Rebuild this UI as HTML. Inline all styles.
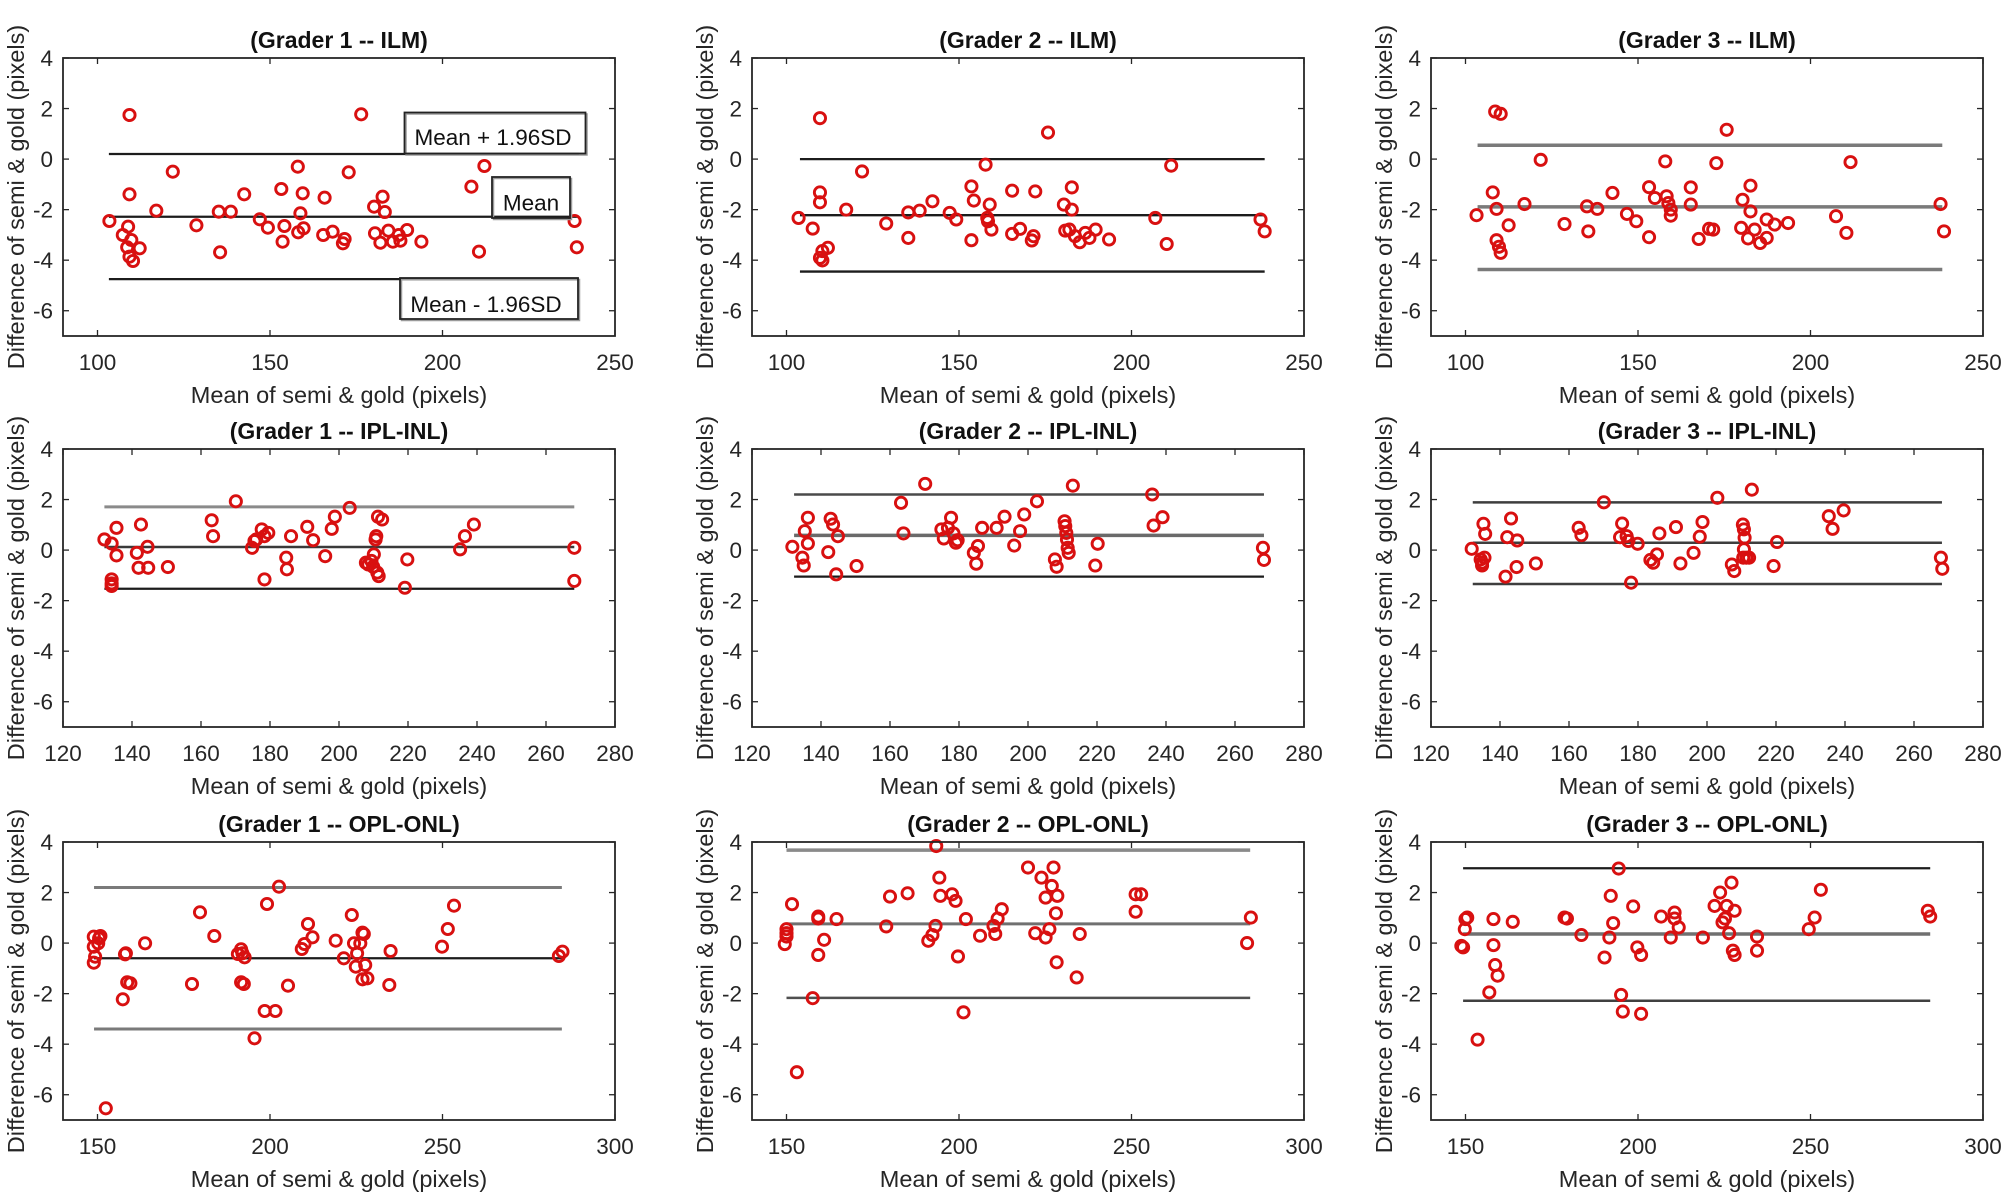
<!DOCTYPE html>
<html><head><meta charset="utf-8"><style>
html,body{margin:0;padding:0;background:#fff;}
svg{display:block;}
text{font-family:"Liberation Sans",Arial,sans-serif;fill:#262626;}
.yt{font-size:22.5px;text-anchor:end;}
.xt{font-size:22.5px;text-anchor:middle;}
.lb{font-size:23.5px;text-anchor:middle;}
.ti{font-size:23px;font-weight:bold;text-anchor:middle;fill:#111;}
.an{font-size:22.5px;text-anchor:middle;fill:#111;}
</style></head><body>
<svg id="c" xmlns="http://www.w3.org/2000/svg" width="2007" height="1201" viewBox="0 0 2007 1201">
<rect x="0" y="0" width="2007" height="1201" fill="#fff"/>
<g id="plots"></g>
<!-- Titles -->
<text class="ti" x="339" y="48">(Grader 1 -- ILM)</text>
<text class="ti" x="1028" y="48">(Grader 2 -- ILM)</text>
<text class="ti" x="1707" y="48">(Grader 3 -- ILM)</text>
<text class="ti" x="339" y="439">(Grader 1 -- IPL-INL)</text>
<text class="ti" x="1028" y="439">(Grader 2 -- IPL-INL)</text>
<text class="ti" x="1707" y="439">(Grader 3 -- IPL-INL)</text>
<text class="ti" x="339" y="832">(Grader 1 -- OPL-ONL)</text>
<text class="ti" x="1028" y="832">(Grader 2 -- OPL-ONL)</text>
<text class="ti" x="1707" y="832">(Grader 3 -- OPL-ONL)</text>
<!-- X labels -->
<text class="lb" x="339" y="403">Mean of semi &amp; gold (pixels)</text>
<text class="lb" x="1028" y="403">Mean of semi &amp; gold (pixels)</text>
<text class="lb" x="1707" y="403">Mean of semi &amp; gold (pixels)</text>
<text class="lb" x="339" y="794">Mean of semi &amp; gold (pixels)</text>
<text class="lb" x="1028" y="794">Mean of semi &amp; gold (pixels)</text>
<text class="lb" x="1707" y="794">Mean of semi &amp; gold (pixels)</text>
<text class="lb" x="339" y="1187">Mean of semi &amp; gold (pixels)</text>
<text class="lb" x="1028" y="1187">Mean of semi &amp; gold (pixels)</text>
<text class="lb" x="1707" y="1187">Mean of semi &amp; gold (pixels)</text>
<!-- Y labels -->
<text class="lb" transform="translate(24,197) rotate(-90)">Difference of semi &amp; gold (pixels)</text>
<text class="lb" transform="translate(713,197) rotate(-90)">Difference of semi &amp; gold (pixels)</text>
<text class="lb" transform="translate(1392,197) rotate(-90)">Difference of semi &amp; gold (pixels)</text>
<text class="lb" transform="translate(24,588) rotate(-90)">Difference of semi &amp; gold (pixels)</text>
<text class="lb" transform="translate(713,588) rotate(-90)">Difference of semi &amp; gold (pixels)</text>
<text class="lb" transform="translate(1392,588) rotate(-90)">Difference of semi &amp; gold (pixels)</text>
<text class="lb" transform="translate(24,981) rotate(-90)">Difference of semi &amp; gold (pixels)</text>
<text class="lb" transform="translate(713,981) rotate(-90)">Difference of semi &amp; gold (pixels)</text>
<text class="lb" transform="translate(1392,981) rotate(-90)">Difference of semi &amp; gold (pixels)</text>
<!-- Y tick labels -->
<g class="yt">
<text x="53" y="66">4</text><text x="53" y="116.5">2</text><text x="53" y="167">0</text><text x="53" y="217.5">-2</text><text x="53" y="268">-4</text><text x="53" y="318.5">-6</text>
<text x="742" y="66">4</text><text x="742" y="116.5">2</text><text x="742" y="167">0</text><text x="742" y="217.5">-2</text><text x="742" y="268">-4</text><text x="742" y="318.5">-6</text>
<text x="1421" y="66">4</text><text x="1421" y="116.5">2</text><text x="1421" y="167">0</text><text x="1421" y="217.5">-2</text><text x="1421" y="268">-4</text><text x="1421" y="318.5">-6</text>
<text x="53" y="457">4</text><text x="53" y="507.5">2</text><text x="53" y="558">0</text><text x="53" y="608.5">-2</text><text x="53" y="659">-4</text><text x="53" y="709.5">-6</text>
<text x="742" y="457">4</text><text x="742" y="507.5">2</text><text x="742" y="558">0</text><text x="742" y="608.5">-2</text><text x="742" y="659">-4</text><text x="742" y="709.5">-6</text>
<text x="1421" y="457">4</text><text x="1421" y="507.5">2</text><text x="1421" y="558">0</text><text x="1421" y="608.5">-2</text><text x="1421" y="659">-4</text><text x="1421" y="709.5">-6</text>
<text x="53" y="850">4</text><text x="53" y="900.5">2</text><text x="53" y="951">0</text><text x="53" y="1001.5">-2</text><text x="53" y="1052">-4</text><text x="53" y="1102.5">-6</text>
<text x="742" y="850">4</text><text x="742" y="900.5">2</text><text x="742" y="951">0</text><text x="742" y="1001.5">-2</text><text x="742" y="1052">-4</text><text x="742" y="1102.5">-6</text>
<text x="1421" y="850">4</text><text x="1421" y="900.5">2</text><text x="1421" y="951">0</text><text x="1421" y="1001.5">-2</text><text x="1421" y="1052">-4</text><text x="1421" y="1102.5">-6</text>
</g>
<!-- X tick labels -->
<g class="xt">
<text x="97.5" y="370">100</text><text x="270" y="370">150</text><text x="442.5" y="370">200</text><text x="615" y="370">250</text>
<text x="786.5" y="370">100</text><text x="959" y="370">150</text><text x="1131.5" y="370">200</text><text x="1304" y="370">250</text>
<text x="1465.5" y="370">100</text><text x="1638" y="370">150</text><text x="1810.5" y="370">200</text><text x="1983" y="370">250</text>

<text x="63" y="761">120</text><text x="132" y="761">140</text><text x="201" y="761">160</text><text x="270" y="761">180</text><text x="339" y="761">200</text><text x="408" y="761">220</text><text x="477" y="761">240</text><text x="546" y="761">260</text><text x="615" y="761">280</text>
<text x="752" y="761">120</text><text x="821" y="761">140</text><text x="890" y="761">160</text><text x="959" y="761">180</text><text x="1028" y="761">200</text><text x="1097" y="761">220</text><text x="1166" y="761">240</text><text x="1235" y="761">260</text><text x="1304" y="761">280</text>
<text x="1431" y="761">120</text><text x="1500" y="761">140</text><text x="1569" y="761">160</text><text x="1638" y="761">180</text><text x="1707" y="761">200</text><text x="1776" y="761">220</text><text x="1845" y="761">240</text><text x="1914" y="761">260</text><text x="1983" y="761">280</text>

<text x="97.5" y="1154">150</text><text x="270" y="1154">200</text><text x="442.5" y="1154">250</text><text x="615" y="1154">300</text>
<text x="786.5" y="1154">150</text><text x="959" y="1154">200</text><text x="1131.5" y="1154">250</text><text x="1304" y="1154">300</text>
<text x="1465.5" y="1154">150</text><text x="1638" y="1154">200</text><text x="1810.5" y="1154">250</text><text x="1983" y="1154">300</text>
</g>
<!-- Annotation boxes (plot 1) -->
<rect x="406" y="114" width="181" height="41" fill="none" stroke="#9a9a9a" stroke-width="1.5"/>
<rect x="404.5" y="112.5" width="181" height="41" fill="none" stroke="#222" stroke-width="1.8"/>
<text class="an" x="493" y="145">Mean + 1.96SD</text>
<rect x="493.5" y="178.5" width="78" height="41" fill="none" stroke="#9a9a9a" stroke-width="1.5"/>
<rect x="492" y="177" width="78" height="41" fill="none" stroke="#222" stroke-width="1.8"/>
<text class="an" x="531" y="210.5">Mean</text>
<rect x="401.5" y="279.5" width="178" height="41" fill="none" stroke="#9a9a9a" stroke-width="1.5"/>
<rect x="400" y="278" width="178" height="41" fill="none" stroke="#222" stroke-width="1.8"/>
<text class="an" x="486" y="312">Mean - 1.96SD</text>
</svg>
<script>
(function(){
var NS='http://www.w3.org/2000/svg';
var G=document.getElementById('plots');
function el(n,a){var e=document.createElementNS(NS,n);for(var k in a)e.setAttribute(k,a[k]);G.appendChild(e);return e;}
var W=552,H=278,K=H/11,SX=W/160;
var ILM=[100,150,200,250],IPL=[120,140,160,180,200,220,240,260,280],OPL=[150,200,250,300];
var plots=[
{L:63,T:58,x0:90,ticks:ILM,px:true,lx:[103.3,239.5],
 lines:[[0.20,'#1c1c1c',2.3],[-2.28,'#1c1c1c',2.3],[-4.75,'#1c1c1c',2.3]],
 pts:"109.4,221 129.5,115 129.5,194.3 122.8,235 128.1,226.7 127.2,247.3 129.5,256.7 133,261 131.3,240 139.7,248.3 156.3,210.7 172.8,171.7 196.4,225.3 218.8,211.7 220.1,252.3 230.8,211.7 244.2,194.3 259.8,219.3 267.9,227.7 281.3,189 282.6,241.7 284.4,226 297.8,166.7 300.4,213.3 302.7,193.3 303.6,228.3 298.2,232.3 323.2,235 324.6,197.7 332.6,231.7 342.9,243.3 344.6,239 348.7,172.3 361.2,114.3 374.1,206.7 375,233.3 380.4,242.7 382.6,196.7 384.8,212 388.4,230.7 392.9,241.7 398.7,235 400.4,240.7 407.1,230 421.4,241.7 471.4,186.7 479,251.7 484.4,166 574.6,221 576.8,247.3"},
{L:752,T:58,x0:90,ticks:ILM,lx:[103.9,238.6],
 lines:[[0.0,'#1c1c1c',2.3],[-2.22,'#1c1c1c',2.3],[-4.45,'#1c1c1c',2.3]],
 pts:"109.7,1.62 109.7,-1.32 109.7,-1.71 103.5,-2.33 107.6,-2.75 117.3,-2.0 121.9,-0.49 112,-3.51 110.4,-3.64 109.7,-3.91 110.4,-4.01 128.9,-2.55 135.3,-3.12 135.3,-2.11 138.6,-2.04 142.3,-1.67 147.3,-2.13 149.2,-2.39 153.6,-1.08 154.3,-1.64 153.6,-3.21 157.7,-0.22 158.9,-1.8 158.2,-2.33 158.4,-2.46 159.4,-2.79 165.4,-1.25 165.4,-2.96 167.7,-2.76 171.1,-3.22 172.1,-1.28 171.6,-3.05 175.8,1.05 180.4,-1.8 180.8,-2.83 182.7,-1.12 182.7,-2.0 182,-2.79 183.6,-3.05 185,-3.29 186.6,-2.92 187.8,-3.12 189.6,-2.79 193.5,-3.18 206.9,-2.33 210.2,-3.36 211.5,-0.26 237.4,-2.39 238.6,-2.86"},
{L:1431,T:58,x0:90,ticks:ILM,lx:[103.5,238.2],
 lines:[[0.55,'#7a7a7a',3.5],[-1.89,'#7a7a7a',3.5],[-4.37,'#7a7a7a',3.5]],
 pts:"108.6,1.88 110.2,1.79 107.9,-1.32 109,-1.97 103.2,-2.22 112.5,-2.62 109,-3.21 109.7,-3.47 110.2,-3.71 117.1,-1.78 121.8,-0.03 128.7,-2.57 135.2,-1.87 135.6,-2.86 138.2,-1.97 142.6,-1.34 146.8,-2.17 149.5,-2.46 153.2,-1.11 154.9,-1.54 153.2,-3.09 157.9,-0.09 158.3,-1.47 158.8,-1.74 159.5,-2.0 159.5,-2.24 167.6,-3.16 170.6,-2.76 171.8,-2.79 165.3,-1.12 165.3,-1.8 172.7,-0.16 175.7,1.16 180.3,-1.61 182.6,-1.05 182.6,-2.07 179.9,-2.72 181.9,-3.14 183.8,-2.79 185.4,-3.32 187.3,-2.39 187.3,-3.12 189.6,-2.59 193.5,-2.53 207.4,-2.26 210.4,-2.92 211.6,-0.12 237.7,-1.78 238.7,-2.86"},
{L:63,T:449,x0:120,ticks:IPL,lx:[132,268.2],
 lines:[[1.71,'#8a8a8a',3],[0.12,'#3a3a3a',2.5],[-1.53,'#1c1c1c',2.3]],
 pts:"132,0.42 134.1,0.26 135.5,0.88 135.5,-0.21 134.1,-1.16 134.1,-1.32 134.1,-1.42 141.4,-0.11 141.9,-0.7 142.6,1.01 144.5,0.13 144.7,-0.7 150.4,-0.67 163.1,1.18 163.5,0.55 170.1,1.93 174.8,0.09 175.5,0.36 176,0.42 177.6,0.82 178.4,0.55 178.4,-1.16 179.5,0.68 184.7,-0.3 184.9,-0.76 186.1,0.55 190.8,0.92 192.5,0.39 196,-0.24 197.9,0.84 198.8,1.32 203.1,1.67 207.8,-0.5 208.5,-0.57 209.4,-0.43 209.9,-0.66 210.1,-0.17 210.6,0.42 210.8,0.55 211.3,1.32 211.1,-0.89 211.5,-1.03 212.5,1.21 219.8,-0.37 219.1,-1.49 235.1,0.03 236.5,0.55 239.1,1.01 268.2,0.09 268.2,-1.22"},
{L:752,T:449,x0:120,ticks:IPL,lx:[132.2,268.4],
 lines:[[2.2,'#4a4a4a',2.5],[0.58,'#6a6a6a',3.5],[-1.05,'#1c1c1c',2.3]],
 pts:"131.7,0.13 134.6,-0.3 135,-0.61 135.3,0.75 136.2,0.26 136.2,1.28 142.1,-0.08 142.8,1.24 143.5,1.01 144.9,0.55 144.4,-0.96 150.3,-0.63 163.2,1.87 163.9,0.66 170.2,2.62 174.9,0.82 175.6,0.46 176.8,0.88 177.7,1.28 178.4,0.66 179.6,0.39 179.1,0.29 184.3,-0.11 185,-0.54 185.5,0.16 186.7,0.88 190.9,0.88 193.2,1.32 196,0.18 197.7,0.75 198.9,1.41 202.6,1.93 207.8,-0.37 208.3,-0.66 210.6,1.14 210.8,0.95 211.1,0.68 211.3,0.42 211.5,0.09 211.8,-0.11 213,2.55 219.5,-0.61 220.2,0.25 236,2.2 236.4,0.97 239,1.3 268.1,0.09 268.4,-0.39"},
{L:1431,T:449,x0:120,ticks:IPL,lx:[132.1,268.1],
 lines:[[1.89,'#3e3e3e',2.5],[0.29,'#3e3e3e',2.5],[-1.34,'#3e3e3e',2.5]],
 pts:"131.8,0.05 135.2,1.04 135.7,0.64 134.4,-0.37 134.8,-0.61 135.5,-0.3 134.8,-0.5 141.6,-1.05 142.1,0.51 143.2,1.25 144.8,-0.67 145,0.38 150.4,-0.53 162.8,0.88 163.6,0.59 170.1,1.89 175.4,1.05 174.8,0.51 176.7,0.55 177.2,0.36 178,-1.29 179.9,0.25 183.6,-0.39 184.4,-0.5 185.5,-0.17 186.2,0.66 191,0.91 192.3,-0.53 196.1,-0.11 197.9,0.53 198.7,1.11 203,2.07 207.2,-0.57 207.9,-0.83 210.4,1.01 210.7,0.82 210.9,0.49 210.7,0.03 210.5,-0.3 211.4,-0.3 212.2,-0.3 213,2.39 219.3,-0.63 220.3,0.32 235.3,1.34 236.4,0.84 239.6,1.57 267.8,-0.3 268.2,-0.74"},
{L:63,T:842,x0:140,ticks:OPL,lx:[149,284.6],
 lines:[[2.2,'#7a7a7a',3],[-0.6,'#1c1c1c',2.3],[-3.4,'#7a7a7a',3]],px:true,
 pts:"93.8,936.7 93.8,946.7 95.1,956.7 93.8,962.7 99.1,938.3 100.4,936 98.2,943.3 125.9,953.3 125,954.3 127.2,982.3 130.4,983.3 122.8,999.3 145.1,943.3 192,984 200,912.3 214.3,936 237.9,954 241.1,949.3 242.4,953.3 244.6,957.3 241.1,982.3 243.8,984 254.5,1038.3 264.7,1011 267,904 275.4,1011 279,886.7 288,985.7 301.8,949 304.5,944 308,924 312.5,937.3 335.7,940.7 343.8,958.3 351.8,915 354,943.3 357.1,953.3 355.8,966.7 360.3,943.3 362.5,932.7 363.8,934 365.2,965 362.5,979.3 367.4,978.3 390.6,951 389.3,985 442,946.7 447.8,929 454,905.7 558.9,956 562.5,951.7 105.8,1108.3"},
{L:752,T:842,x0:140,ticks:OPL,lx:[150,284.4],
 lines:[[3.68,'#8a8a8a',3.5],[0.76,'#707070',3],[-2.17,'#505050',2.5]],
 pts:"150,0.55 150,0.39 150,0.26 149.5,-0.04 151.6,1.54 153,-5.11 157.6,-2.18 159.2,1.05 159.2,0.97 159.2,-0.47 160.9,0.13 164.5,0.95 178.9,0.66 180,1.84 185.1,1.97 191.1,0.09 192.3,0.32 193.2,0.68 193.4,3.84 194.3,2.59 194.6,1.87 198,1.93 199,1.67 199.7,-0.53 202,0.95 206.1,0.29 210,0.68 210.5,0.36 211.2,0.97 212.4,1.34 220,2.99 222.1,0.39 223.9,2.59 225.1,1.8 225.1,0.22 226.2,0.55 226.9,2.26 227.4,2.99 228.1,1.18 228.5,1.87 228.3,-0.76 234.1,-1.36 235,0.36 251.2,1.93 251.2,1.24 252.8,1.93 283.5,0 284.6,1.01 201.3,-2.74"},
{L:1431,T:842,x0:140,ticks:OPL,lx:[149.3,284.7],
 lines:[[2.96,'#1c1c1c',2.3],[0.36,'#707070',3.5],[-2.28,'#404040',2.5]],
 pts:"148.8,-0.11 149.3,-0.17 149.8,0.55 150,0.95 150.5,1.01 153.5,-3.82 156.9,-1.95 158.1,0.95 158.1,-0.08 158.6,-0.87 159.3,-1.29 163.7,0.84 178.7,1.01 179.4,0.97 183.6,0.32 190.3,-0.57 191.7,0.22 192.1,1.87 192.8,0.79 195.1,-2.05 194.4,2.95 195.6,-2.71 198.6,1.45 199.8,-0.17 200.9,-0.47 200.9,-2.8 206.7,1.05 209.5,0.22 210.6,1.21 210.6,0.97 211.8,0.62 218.8,0.22 222.2,1.47 223.8,2.0 224.5,0.82 225.2,0.97 225.7,1.47 226.4,0.39 227.1,2.39 227.5,-0.3 228,-0.47 228,1.28 234.5,0.26 234.5,-0.3 249.5,0.55 251.2,1.01 253,2.11 284,1.28 284.7,1.05"}
];
var AX='#262626';
plots.forEach(function(p){
  var X=function(v){return p.L+(v-p.x0)*SX;}, Y=function(v){return p.T+(4-v)*K;};
  p.lines.forEach(function(l){
    var y=Y(l[0]);
    el('line',{x1:X(p.lx[0]),x2:X(p.lx[1]),y1:y,y2:y,stroke:l[1],'stroke-width':l[2]});
  });
  p.pts.split(' ').forEach(function(s){
    var a=s.split(','),x=+a[0],y=+a[1];
    if(!p.px){x=X(x);y=Y(y);}
    el('circle',{cx:x,cy:y,r:5.6,fill:'none',stroke:'#d81010','stroke-width':2.9});
  });
  p.ticks.forEach(function(t){
    var x=X(t);
    el('line',{x1:x,x2:x,y1:p.T+H,y2:p.T+H-6,stroke:AX,'stroke-width':1.3});
    el('line',{x1:x,x2:x,y1:p.T,y2:p.T+6,stroke:AX,'stroke-width':1.3});
  });
  [4,2,0,-2,-4,-6].forEach(function(v){
    var y=Y(v);
    el('line',{x1:p.L,x2:p.L+6,y1:y,y2:y,stroke:AX,'stroke-width':1.3});
    el('line',{x1:p.L+W,x2:p.L+W-6,y1:y,y2:y,stroke:AX,'stroke-width':1.3});
  });
  el('rect',{x:p.L,y:p.T,width:W,height:H,fill:'none',stroke:AX,'stroke-width':1.8});
});
})();
</script>
</body></html>
